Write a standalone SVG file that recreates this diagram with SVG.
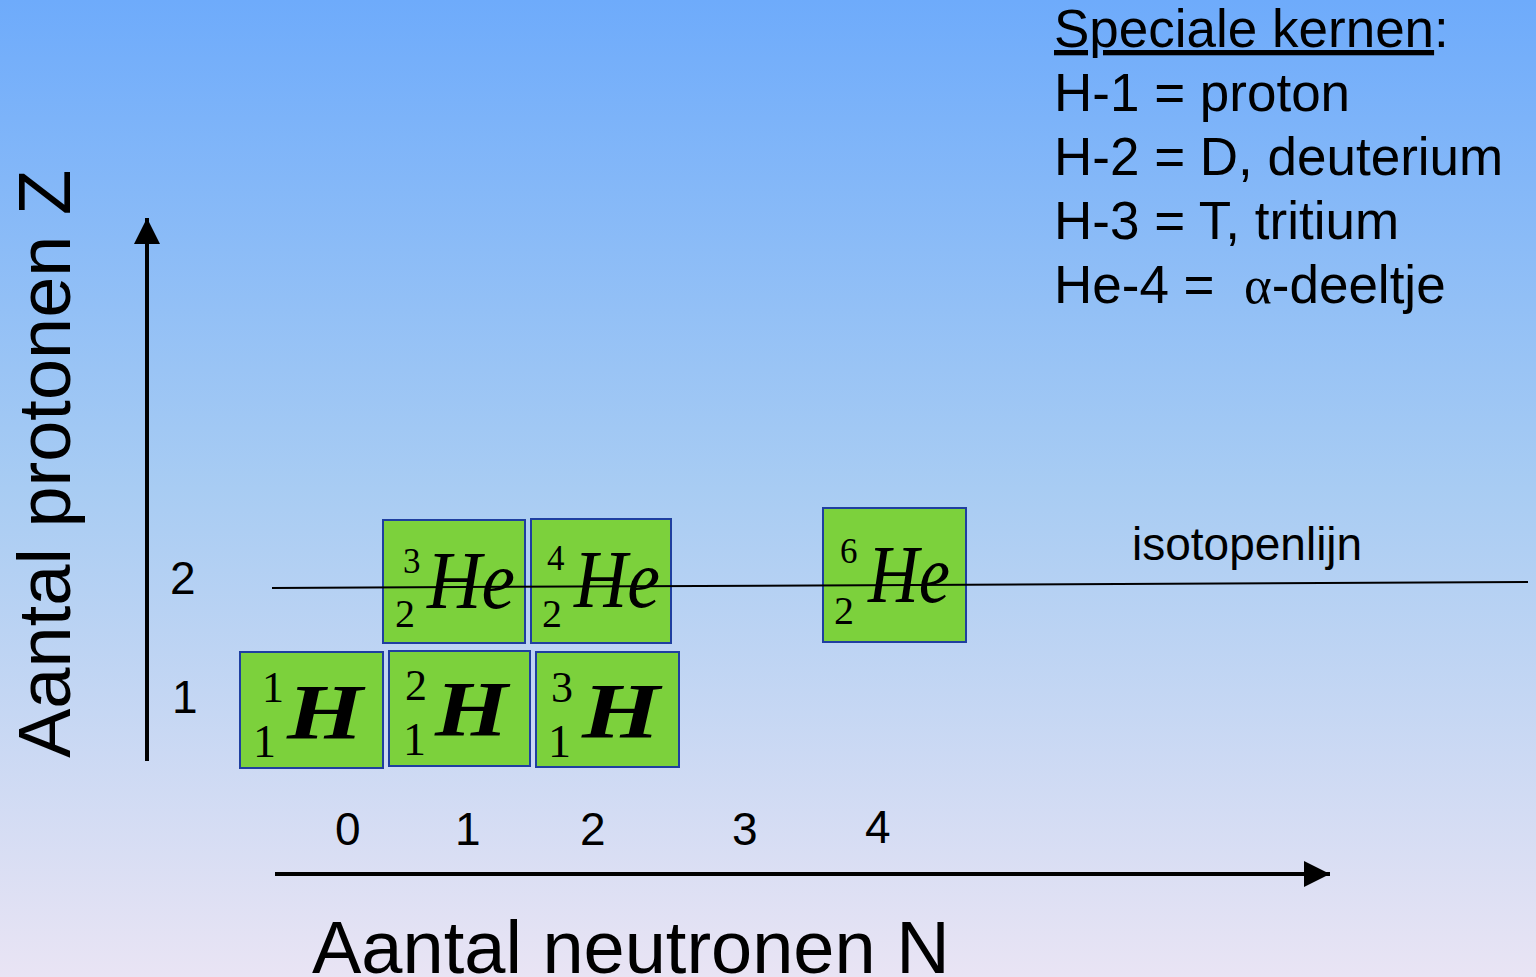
<svg xmlns="http://www.w3.org/2000/svg" width="1536" height="977" viewBox="0 0 1536 977">
<defs>
<linearGradient id="bg" x1="0" y1="0" x2="0" y2="1">
<stop offset="0" stop-color="#6EABFB"/>
<stop offset="0.5" stop-color="#A8CCF3"/>
<stop offset="1" stop-color="#E9E4F4"/>
</linearGradient>
<marker id="arr" viewBox="0 0 10 10" refX="10" refY="5" markerWidth="6.5" markerHeight="6.5" markerUnits="strokeWidth" orient="auto">
<path d="M0,0 L10,5 L0,10 Z" fill="#000"/>
</marker>
<style>
.box{fill:#7CD13C;stroke:#1F3FA0;stroke-width:2}
.sans{font-family:"Liberation Sans",Arial,sans-serif;fill:#000}
.ser{font-family:"Liberation Serif","Times New Roman",serif;fill:#000}
.el{font-family:"Liberation Serif","Times New Roman",serif;font-style:italic;fill:#000}
.hb{font-weight:bold;font-size:78px}
.he{font-size:83px}
.hs{font-size:44px}
.hsub{font-size:46px}
.es{font-size:35px}
.esub{font-size:40px}
.tick{font-size:46px}
.big{font-size:74px}
.leg{font-size:53px}
</style>
</defs>
<rect width="1536" height="977" fill="url(#bg)"/>

<g id="H1">
<rect class="box" x="240" y="652" width="143" height="116"/>
<text class="ser hs" x="262" y="702">1</text>
<text class="ser hsub" x="253" y="757">1</text>
<text class="el hb" x="287" y="738" textLength="76" lengthAdjust="spacingAndGlyphs">H</text>
</g>
<g id="H2">
<rect class="box" x="389" y="651" width="141" height="115"/>
<text class="ser hs" x="405" y="700">2</text>
<text class="ser hsub" x="403" y="755">1</text>
<text class="el hb" x="435" y="735" textLength="73" lengthAdjust="spacingAndGlyphs">H</text>
</g>
<g id="H3">
<rect class="box" x="536" y="652" width="143" height="115"/>
<text class="ser hs" x="551" y="702">3</text>
<text class="ser hsub" x="548" y="757">1</text>
<text class="el hb" x="582" y="737" textLength="78" lengthAdjust="spacingAndGlyphs">H</text>
</g>
<g id="He3">
<rect class="box" x="383" y="520" width="142" height="123"/>
<text class="ser es" x="403" y="573">3</text>
<text class="ser esub" x="395" y="627">2</text>
<text class="el he" x="427" y="608" textLength="88" lengthAdjust="spacingAndGlyphs">He</text>
</g>
<g id="He4">
<rect class="box" x="531" y="519" width="140" height="124"/>
<text class="ser es" x="547" y="570">4</text>
<text class="ser esub" x="542" y="627">2</text>
<text class="el he" x="574" y="607" textLength="86" lengthAdjust="spacingAndGlyphs">He</text>
</g>
<g id="He6">
<rect class="box" x="823" y="508" width="143" height="134"/>
<text class="ser es" x="840" y="563">6</text>
<text class="ser esub" x="834" y="624">2</text>
<text class="el he" x="868" y="602" textLength="82" lengthAdjust="spacingAndGlyphs">He</text>
</g>

<g id="connectors" stroke="#000" fill="none">
<line x1="147" y1="761" x2="147" y2="218" stroke-width="4" marker-end="url(#arr)"/>
<line x1="275" y1="874" x2="1330" y2="874" stroke-width="4" marker-end="url(#arr)"/>
<line x1="272" y1="588" x2="1528" y2="582" stroke-width="2"/>
</g>

<g id="axis-labels">
<text class="sans tick" x="170" y="594">2</text>
<text class="sans tick" x="172" y="713">1</text>
<text class="sans tick" x="335" y="845">0</text>
<text class="sans tick" x="455" y="845">1</text>
<text class="sans tick" x="580" y="845">2</text>
<text class="sans tick" x="732" y="845">3</text>
<text class="sans tick" x="865" y="843">4</text>
<text class="sans tick" x="1132" y="560">isotopenlijn</text>
<text class="sans big" x="312" y="973">Aantal neutronen N</text>
<text class="sans big" transform="translate(70,758) rotate(-90)">Aantal protonen Z</text>
</g>

<g id="legend">
<text class="sans leg" x="1054" y="47"><tspan text-decoration="underline">Speciale kernen</tspan>:</text>
<text class="sans leg" x="1054" y="111">H-1 = proton</text>
<text class="sans leg" x="1054" y="175">H-2 = D, deuterium</text>
<text class="sans leg" x="1054" y="239">H-3 = T, tritium</text>
<text class="sans leg" x="1054" y="303">He-4 = <tspan x="1244" class="ser">α</tspan>-deeltje</text>
</g>
</svg>
